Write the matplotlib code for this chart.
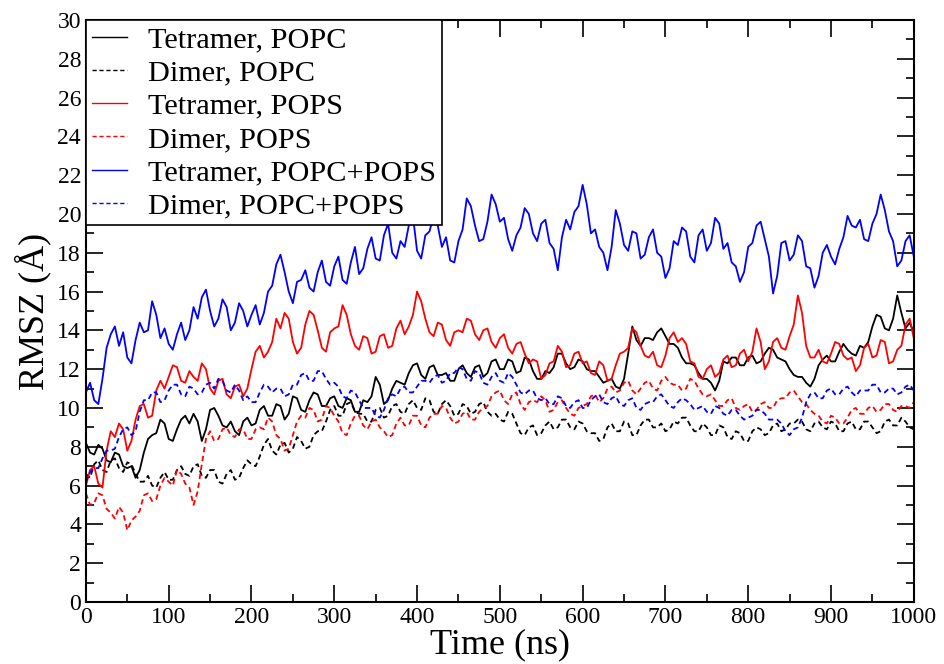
import numpy as np
import matplotlib
matplotlib.use("Agg")
from matplotlib import pyplot as plt

plt.rcParams['font.family'] = ['Liberation Serif', 'DejaVu Serif']

# readings every 10 ns (0..1000) and in-between readings (5..995)
t_main = np.arange(0, 1001, 10)
t_mid = np.arange(5, 1000, 10)

# Tetramer, POPC
tet_popc = [8.2, 7.6, 7.9, 7.2, 7.6, 6.9, 6.4, 7.7, 8.6, 9.4,
            8.4, 8.9, 9.6, 9.7, 8.3, 9.9, 9.6, 9.0, 8.8, 9.3,
            9.1, 9.9, 9.6, 10.2, 9.4, 10.6, 9.9, 10.4, 10.7, 10.1,
            10.6, 10.0, 10.4, 9.8, 10.3, 11.6, 10.2, 11.0, 11.3, 11.8,
            12.3, 11.5, 12.2, 11.7, 11.4, 12.0, 11.8, 12.1, 11.6, 12.4,
            12.0, 12.5, 11.8, 12.6, 11.9, 11.5, 11.8, 12.8, 12.3, 12.1,
            12.4, 11.9, 11.6, 11.4, 11.1, 11.5, 14.2, 13.2, 13.6, 13.9,
            13.7, 13.3, 12.6, 12.3, 11.8, 11.5, 10.9, 12.4, 12.6, 12.2,
            12.6, 12.3, 12.8, 13.0, 12.5, 12.0, 11.6, 11.3, 11.5, 12.5,
            12.4, 12.9, 13.0, 12.7, 13.1, 14.2, 14.7, 14.0, 15.8, 14.1,
            13.9]
tet_popc_mid = [7.7, 8.1, 7.3, 7.7, 7.0, 7.0, 6.8, 8.4, 8.7, 9.2,
                8.3, 9.4, 9.2, 9.3, 8.9, 10.0, 9.1, 9.3, 8.6, 9.5,
                9.2, 10.1, 9.6, 10.1, 9.7, 10.5, 9.8, 10.8, 10.1, 10.5,
                10.1, 10.5, 9.8, 10.4, 10.6, 11.2, 10.4, 11.4, 11.2, 12.2,
                11.7, 12.1, 11.7, 11.8, 11.4, 12.2, 11.6, 12.2, 11.8, 12.5,
                12.0, 12.4, 11.9, 12.5, 11.5, 11.9, 12.1, 12.8, 12.0, 12.5,
                12.0, 11.9, 11.3, 11.5, 11.0, 12.8, 13.5, 13.6, 13.5, 14.1,
                13.3, 13.1, 12.3, 12.2, 11.5, 11.3, 11.4, 12.3, 12.6, 12.2,
                12.7, 12.4, 13.1, 12.6, 12.4, 11.7, 11.6, 11.1, 12.2, 12.7,
                12.4, 13.3, 12.8, 13.2, 13.4, 14.8, 14.1, 14.6, 14.9, 14.4]

# Dimer, POPC
dim_popc = [6.6, 7.1, 6.8, 7.3, 6.9, 7.2, 6.6, 6.2, 6.0, 6.4,
            6.3, 6.8, 6.6, 7.0, 6.5, 6.8, 6.2, 6.6, 6.3, 6.9,
            7.1, 7.5, 8.4, 7.6, 8.2, 7.9, 8.3, 8.0, 8.8, 9.3,
            10.1, 9.6, 10.3, 9.7, 9.3, 9.9, 9.5, 10.1, 9.8, 10.2,
            10.0, 10.5, 9.8, 10.2, 10.1, 9.7, 10.1, 9.8, 10.3, 9.6,
            9.4, 9.8, 9.2, 8.6, 9.1, 8.7, 9.3, 9.0, 9.4, 8.9,
            9.2, 8.7, 8.3, 9.0, 8.8, 9.3, 8.6, 9.1, 9.4, 9.0,
            8.8, 9.3, 9.5, 9.1, 8.8, 9.0, 8.6, 9.0, 8.4, 8.7,
            8.3, 9.0, 8.6, 9.1, 8.8, 9.2, 9.4, 8.9, 9.2, 9.0,
            9.3, 8.8, 9.2, 8.9, 9.3, 9.0, 8.8, 9.4, 9.1, 9.3,
            8.9]
dim_popc_mid = [6.4, 7.3, 6.7, 7.4, 6.7, 7.1, 6.2, 6.5, 5.9, 6.7,
                6.3, 7.0, 6.5, 7.1, 6.4, 6.8, 6.1, 6.8, 6.4, 7.3,
                7.0, 8.1, 7.8, 8.1, 7.7, 8.5, 7.9, 8.6, 8.8, 9.9,
                9.6, 10.2, 9.8, 9.7, 9.3, 10.0, 9.6, 10.2, 9.7, 10.4,
                9.9, 10.4, 9.7, 10.4, 9.6, 10.2, 9.7, 10.2, 9.8, 9.7,
                9.3, 9.7, 8.7, 9.0, 8.6, 9.1, 8.9, 9.4, 9.0, 9.3,
                8.8, 8.7, 8.4, 9.2, 8.8, 9.2, 8.6, 9.4, 9.0, 9.2,
                8.9, 9.2, 9.5, 8.8, 9.2, 8.6, 9.1, 8.5, 8.8, 8.3,
                8.8, 8.9, 8.7, 9.2, 8.9, 9.2, 9.3, 8.8, 9.3, 8.9,
                9.2, 8.8, 9.3, 8.9, 9.3, 8.7, 9.3, 9.1, 9.5, 9.0]

# Tetramer, POPS
tet_pops = [6.0, 7.0, 5.9, 8.8, 9.2, 7.8, 9.4, 10.2, 9.6, 11.4,
            11.6, 12.1, 11.3, 11.6, 12.3, 11.0, 11.4, 10.7, 11.1, 10.6,
            12.0, 13.2, 12.9, 14.6, 14.9, 13.4, 13.1, 15.0, 14.0, 12.9,
            14.1, 15.3, 13.8, 13.0, 13.6, 12.9, 13.8, 13.2, 14.5, 14.2,
            16.0, 14.6, 13.7, 14.3, 13.2, 14.0, 14.6, 13.8, 14.0, 13.4,
            13.6, 13.1, 13.3, 12.8, 12.5, 11.5, 12.3, 13.2, 12.1, 12.8,
            12.3, 11.8, 12.4, 11.4, 12.2, 12.9, 14.1, 13.2, 12.6, 12.2,
            12.7, 13.9, 13.6, 12.4, 11.6, 12.0, 11.6, 12.5, 12.1, 12.8,
            12.4, 14.1, 12.0, 13.4, 13.1, 13.7, 15.8, 13.2, 12.6, 12.4,
            12.8, 13.3, 12.5, 11.9, 13.1, 12.6, 13.5, 12.3, 13.0, 14.3,
            13.6]
tet_pops_mid = [6.8, 6.1, 7.8, 8.5, 8.9, 8.3, 10.1, 9.5, 10.9, 11.0,
                12.2, 11.4, 11.9, 11.4, 12.0, 10.7, 11.5, 10.5, 11.2, 11.0,
                12.9, 12.6, 13.4, 14.1, 14.6, 12.8, 14.3, 14.8, 13.1, 13.9,
                14.2, 14.8, 13.2, 13.7, 12.8, 13.7, 13.1, 14.1, 13.8, 14.8,
                15.5, 13.9, 14.4, 13.5, 13.9, 13.9, 14.5, 13.5, 14.1, 13.1,
                13.8, 12.8, 13.4, 12.3, 12.4, 11.7, 12.4, 12.9, 12.2, 12.9,
                12.4, 11.7, 12.2, 11.5, 12.8, 13.1, 13.9, 12.7, 12.9, 12.1,
                13.6, 13.4, 13.3, 12.3, 11.5, 12.2, 11.8, 12.7, 12.2, 13.0,
                12.9, 13.4, 12.4, 13.6, 13.0, 14.3, 14.9, 12.6, 13.0, 12.3,
                13.4, 12.7, 12.6, 12.2, 13.3, 12.7, 13.4, 12.4, 13.2, 14.6]

# Dimer, POPS
dim_pops = [5.6, 5.1, 5.5, 4.6, 4.9, 3.7, 4.4, 5.5, 5.2, 6.0,
            6.2, 6.8, 6.1, 5.0, 7.1, 8.8, 8.4, 9.0, 8.5, 8.9,
            8.4, 9.0, 9.5, 8.6, 7.8, 8.6, 9.6, 10.0, 9.3, 10.1,
            9.6, 8.7, 9.2, 9.6, 8.9, 9.4, 8.8, 8.6, 9.5, 9.1,
            9.6, 9.0, 9.7, 10.1, 9.5, 9.3, 9.8, 9.4, 10.0, 10.6,
            10.9, 10.2, 10.8, 9.9, 10.4, 10.6, 9.8, 10.3, 10.0, 9.6,
            10.1, 10.6, 10.3, 11.0, 10.8, 11.3, 10.9, 11.0, 11.4, 10.9,
            11.6, 11.2, 10.9, 11.5, 11.0, 10.6, 10.4, 10.1, 10.5, 9.9,
            10.2, 9.9, 10.3, 10.0, 10.5, 10.8, 10.6, 10.2, 9.7, 9.3,
            9.6, 9.2, 9.5, 10.0, 9.7, 10.1, 9.9, 10.2, 9.8, 10.1,
            10.3]
dim_pops_mid = [5.0, 5.6, 4.8, 4.3, 4.6, 4.2, 4.7, 5.6, 5.3, 6.4,
                6.0, 6.6, 5.9, 5.7, 8.4, 8.3, 8.9, 8.6, 8.9, 8.4,
                8.9, 8.9, 9.3, 8.4, 7.9, 9.3, 9.5, 9.9, 9.4, 10.0,
                9.3, 8.6, 9.6, 9.1, 9.3, 9.0, 8.5, 9.2, 9.1, 9.6,
                9.1, 9.5, 9.7, 10.0, 9.2, 9.7, 9.4, 9.8, 10.1, 10.8,
                10.4, 10.7, 10.2, 10.3, 10.3, 10.4, 9.9, 10.4, 9.7, 10.0,
                10.2, 10.7, 10.5, 11.1, 10.9, 11.4, 10.7, 11.3, 11.0, 11.4,
                11.3, 11.2, 11.0, 11.4, 10.7, 10.7, 10.1, 10.4, 10.0, 10.1,
                9.8, 10.2, 10.0, 10.4, 10.5, 10.9, 10.3, 9.9, 9.6, 9.2,
                9.5, 9.2, 9.9, 9.7, 10.0, 9.8, 10.2, 9.9, 10.1, 10.0]

# Tetramer, POPC+POPS
tet_mix = [10.8, 10.4, 11.5, 13.8, 13.2, 12.6, 13.5, 13.9, 15.5, 13.6,
           13.3, 13.8, 13.5, 15.2, 15.7, 15.0, 14.6, 15.2, 14.4, 15.0,
           14.8, 14.3, 16.0, 17.4, 17.0, 15.4, 16.6, 16.2, 17.0, 16.5,
           17.3, 16.6, 17.5, 16.9, 18.2, 17.7, 18.9, 18.0, 18.6, 19.4,
           18.1, 18.9, 19.9, 18.3, 17.6, 18.6, 20.8, 19.4, 18.7, 21.0,
           19.6, 18.7, 18.9, 20.3, 19.0, 19.5, 18.5, 17.1, 19.7, 20.1,
           21.5, 19.0, 18.3, 17.1, 20.2, 18.4, 19.1, 17.7, 18.8, 18.0,
           16.7, 18.6, 19.3, 17.8, 18.9, 18.1, 19.8, 18.2, 17.5, 16.5,
           18.3, 19.4, 18.7, 15.9, 18.5, 17.6, 18.9, 17.3, 16.2, 18.0,
           17.8, 18.2, 19.9, 19.3, 18.7, 19.5, 21.0, 19.1, 17.3, 18.6,
           17.8]
tet_mix_mid = [11.3, 10.2, 13.1, 14.2, 13.9, 12.3, 14.4, 14.0, 14.8, 14.1,
               13.0, 14.4, 14.0, 14.6, 16.1, 14.2, 15.6, 14.0, 15.4, 14.2,
               15.3, 14.9, 16.3, 17.9, 16.0, 16.5, 17.1, 16.0, 17.6, 16.3,
               17.8, 16.4, 18.3, 17.2, 18.8, 17.6, 19.5, 17.7, 18.3, 19.9,
               17.7, 19.1, 19.4, 18.8, 17.5, 19.2, 20.4, 18.6, 19.6, 20.5,
               19.8, 18.1, 19.3, 20.0, 18.6, 19.7, 18.2, 18.8, 19.2, 20.4,
               20.5, 19.2, 18.0, 18.3, 19.5, 18.1, 19.0, 17.9, 19.2, 17.8,
               17.2, 18.4, 19.1, 17.5, 19.2, 18.5, 19.5, 18.5, 17.3, 17.0,
               18.5, 19.6, 17.8, 16.8, 18.6, 17.9, 18.6, 17.2, 16.8, 18.4,
               17.4, 18.8, 19.4, 19.7, 18.6, 20.0, 20.2, 18.6, 17.6, 18.9]

# Dimer, POPC+POPS
dim_mix = [6.2, 6.9, 7.4, 7.8, 8.5, 9.0, 8.8, 10.4, 10.8, 10.3,
           10.9, 11.2, 10.6, 11.0, 10.8, 11.3, 11.5, 10.9, 11.2, 10.4,
           10.3, 10.8, 11.1, 11.0, 10.6, 11.2, 11.7, 11.4, 11.9, 11.5,
           11.3, 10.6, 10.9, 10.4, 10.0, 9.6, 9.9, 10.7, 11.0, 10.8,
           11.1, 11.4, 11.6, 11.3, 11.8, 12.1, 11.5, 11.9, 11.3, 11.6,
           11.4, 11.8, 11.2, 10.7, 10.9, 10.4, 10.2, 10.6, 10.1, 10.3,
           10.0, 10.4, 10.7, 10.2, 10.6, 10.1, 10.5, 9.9, 10.3, 10.6,
           10.4, 10.0, 10.5, 10.2, 10.0, 9.8, 10.1, 9.7, 9.9, 9.6,
           9.5, 9.9, 9.7, 9.4, 9.2, 8.6, 9.0, 10.3, 10.8, 10.5,
           11.0, 10.7, 11.1, 10.6, 10.9, 11.2, 10.8, 11.0, 10.7, 11.1,
           10.9]
dim_mix_mid = [6.7, 6.9, 7.8, 7.9, 8.9, 8.6, 9.8, 10.4, 10.8, 10.4,
               11.2, 10.7, 11.1, 10.7, 11.2, 11.0, 11.4, 10.8, 10.9, 10.6,
               10.3, 11.2, 10.8, 11.0, 10.7, 11.2, 11.8, 11.4, 11.9, 11.2,
               11.1, 10.5, 10.8, 10.0, 10.0, 9.5, 10.5, 10.6, 11.1, 10.8,
               11.4, 11.3, 11.7, 11.4, 11.8, 12.0, 11.4, 11.8, 11.2, 11.8,
               11.3, 11.6, 10.8, 10.9, 10.5, 10.5, 10.2, 10.5, 10.0, 10.4,
               10.0, 10.6, 10.3, 10.5, 10.2, 10.4, 10.0, 10.2, 10.3, 10.7,
               10.1, 10.3, 10.4, 9.9, 10.1, 9.7, 10.0, 9.6, 9.9, 9.4,
               9.6, 9.9, 9.4, 9.4, 8.8, 8.9, 9.5, 10.7, 10.5, 10.9,
               10.7, 11.0, 10.8, 10.9, 10.9, 11.2, 10.8, 11.0, 10.8, 11.2]


def merge(main, mid):
    # put the in-between readings back in time order
    t = np.empty(len(t_main) + len(t_mid))
    y = np.empty_like(t)
    t[0::2] = t_main
    t[1::2] = t_mid
    y[0::2] = main
    y[1::2] = mid
    return t, y


fig = plt.figure(figsize=(9.44, 6.64), dpi=100)
ax = fig.add_axes([0.091, 0.0934, 0.877, 0.8766])

dash = (0, (3, 2))
series = [
    (tet_popc, tet_popc_mid, 'black', '-', 'Tetramer, POPC'),
    (dim_popc, dim_popc_mid, 'black', dash, 'Dimer, POPC'),
    (tet_pops, tet_pops_mid, 'red', '-', 'Tetramer, POPS'),
    (dim_pops, dim_pops_mid, 'red', dash, 'Dimer, POPS'),
    (tet_mix, tet_mix_mid, 'blue', '-', 'Tetramer, POPC+POPS'),
    (dim_mix, dim_mix_mid, 'blue', dash, 'Dimer, POPC+POPS'),
]
for main, mid, col, ls, lab in series:
    t, y = merge(main, mid)
    ax.plot(t, y, color=col, lw=1.3, ls=ls, label=lab)

ax.set_xlim(0, 1000)
ax.set_ylim(0, 30)
ax.set_xticks(np.arange(0, 1001, 100))
ax.set_xticks(np.arange(0, 1001, 50), minor=True)
ax.set_yticks(np.arange(0, 31, 2))
ax.set_yticks(np.arange(0, 31, 1), minor=True)
ax.tick_params(which='both', direction='in', top=True, right=True, width=1.2)
ax.tick_params(which='major', length=12, labelsize=17)
ax.tick_params(which='minor', length=5.5)
for s in ax.spines.values():
    s.set_linewidth(1.5)

ax.set_xlabel('Time (ns)', fontsize=26, labelpad=0)
ax.set_ylabel('RMSZ (Å)', fontsize=26, labelpad=4)

leg = ax.legend(loc='upper left', borderaxespad=0, fontsize=21.8, handlelength=1.15,
                handletextpad=0.7, labelspacing=0.2, borderpad=0.2, fancybox=False,
                framealpha=1, edgecolor='black')
leg.get_frame().set_linewidth(1.2)
for h in leg.get_lines():
    h.set_linewidth(1.0)

plt.savefig('out.png', dpi=100)
